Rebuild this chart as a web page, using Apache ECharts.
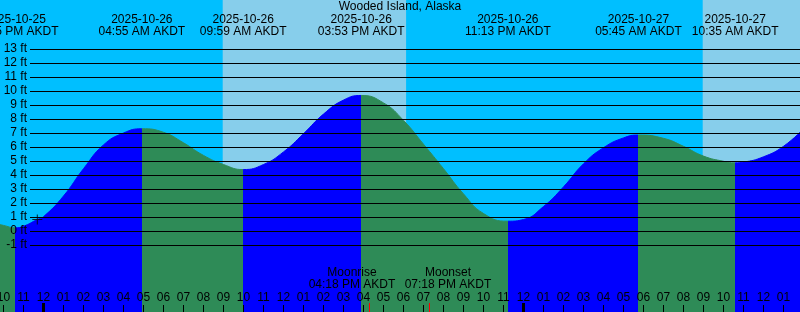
<!DOCTYPE html>
<html><head><meta charset="utf-8">
<script src="https://cdn.jsdelivr.net/npm/echarts@6/dist/echarts.min.js"></script>
<style>html,body{margin:0;padding:0;background:#00BFFF}#c{width:800px;height:312px}</style>
</head><body><div id="c"></div>
<script>
// ---- data (hours are relative to 2025-10-26 00:00 AKDT) ----
const chartTitle = 'Wooded Island, Alaska';
const tideHours = [-2.2, -2, -1.417, -1, -0.31, 0, 1, 2, 3, 4, 4.917, 6, 7, 8, 9, 9.983, 11, 12, 13, 14, 15, 15.883, 17, 18, 19, 20, 21, 22, 23.217, 24, 25, 26, 27, 28, 29, 29.75, 31, 32, 33, 34, 34.583, 35, 36, 37, 38];
const tideFeet  = [0.47, 0.40, 0.23, 0.34, 0.82, 1.02, 2.5, 4.45, 6.15, 7.0, 7.3, 7.05, 6.3, 5.4, 4.75, 4.39, 4.75, 5.65, 6.95, 8.35, 9.35, 9.68, 9.15, 7.9, 6.2, 4.45, 2.65, 1.25, 0.7, 0.82, 1.75, 3.15, 4.8, 5.95, 6.65, 6.85, 6.62, 6.05, 5.35, 4.98, 4.87, 4.92, 5.3, 6.05, 7.3];
const eventHours = [-1.417, 4.917, 9.983, 15.883, 23.217, 29.75, 34.583];
const eventKinds = ['low', 'high', 'low', 'high', 'low', 'high', 'low'];
const eventDates = ['2025-10-25', '2025-10-26', '2025-10-26', '2025-10-26', '2025-10-26', '2025-10-27', '2025-10-27'];
const eventTimes = ['10:35 PM AKDT', '04:55 AM AKDT', '09:59 AM AKDT', '03:53 PM AKDT', '11:13 PM AKDT', '05:45 AM AKDT', '10:35 AM AKDT'];
const sunriseHours = [8.96, 32.96];
const sunsetHours = [18.13, 42.1];
const moonNames = ['Moonrise', 'Moonset'];
const moonHours = [16.3, 19.3];
const moonTimes = ['04:18 PM AKDT', '07:18 PM AKDT'];
const hourTicks = [-2, -1, 0, 1, 2, 3, 4, 5, 6, 7, 8, 9, 10, 11, 12, 13, 14, 15, 16, 17, 18, 19, 20, 21, 22, 23, 24, 25, 26, 27, 28, 29, 30, 31, 32, 33, 34, 35, 36, 37];
const dayTicks = [0, 24];
const nowHour = [-0.31];
const nowFeet = [0.82];

// ---- view ----
const PXH = 20, PXFT = 14;
const xMin = -43.5 / PXH, xMax = 756.5 / PXH;
const yMin = -81 / PXFT, yMax = 231 / PXFT;
const FLOOD = '#0000FF', EBB = '#2E8B57', DAY = '#87CEEB', NIGHT = '#00BFFF';
const moonLabelPad = [[0, 35, 0, 0], [0, 0, 0, 37]];

const pieces = [{ lt: eventHours[0], color: eventKinds[0] === 'low' ? EBB : FLOOD }];
for (let i = 0; i < eventHours.length; i++) {
  const p = { gte: eventHours[i], color: eventKinds[i] === 'low' ? FLOOD : EBB };
  if (i < eventHours.length - 1) p.lt = eventHours[i + 1];
  pieces.push(p);
}
const hourFmt = v => {
  const hh = ((Math.round(v) % 24) + 24) % 24;
  const h12 = hh % 12 === 0 ? 12 : hh % 12;
  return String(h12).padStart(2, '0');
};
const font = 'Liberation Sans';
const baseX = { type: 'value', gridIndex: 0, min: xMin, max: xMax, position: 'bottom', z: 4,
  axisLine: { show: false, onZero: false }, splitLine: { show: false } };

const moonAxes = moonHours.map((m, i) => Object.assign({}, baseX, {
  axisTick: { show: true, inside: true, length: 9, customValues: [m], lineStyle: { color: '#FF0000', width: 1 } },
  axisLabel: { show: true, inside: true, customValues: [m], margin: 21, fontSize: 12, color: '#000', fontFamily: font,
    lineHeight: 12.5, hideOverlap: false, showMinLabel: true, showMaxLabel: true,
    formatter: () => '{m|' + moonNames[i] + '}\n{m|' + moonTimes[i] + '}',
    rich: { m: { padding: moonLabelPad[i], fontSize: 12, color: '#000', fontFamily: font, lineHeight: 12.5 } }
  }
}));

const chart = echarts.init(document.getElementById('c'));
chart.setOption({
  animation: false,
  backgroundColor: NIGHT,
  textStyle: { fontFamily: font },
  title: { text: chartTitle, left: 'center', top: 1, padding: 0,
    textStyle: { fontSize: 12, fontWeight: 'normal', color: '#000', fontFamily: font } },
  grid: [
    { left: 0, right: 0, top: 0, bottom: 0, outerBoundsMode: 'none', containLabel: false },
    { left: 30, right: 0, top: 49, height: 196, outerBoundsMode: 'none', containLabel: false }
  ],
  visualMap: { show: false, type: 'piecewise', dimension: 0, seriesIndex: 0, pieces: pieces },
  xAxis: [
    Object.assign({}, baseX, {
      axisTick: { show: true, inside: true, length: 7, customValues: hourTicks, lineStyle: { color: '#000', width: 1 } },
      axisLabel: { show: true, inside: true, customValues: hourTicks, formatter: hourFmt, margin: 8,
        fontSize: 12, color: '#000', fontFamily: font, hideOverlap: false, showMinLabel: true, showMaxLabel: true }
    }),
    Object.assign({}, baseX, {
      axisTick: { show: true, inside: true, length: 9, customValues: dayTicks, lineStyle: { color: '#000', width: 3 } },
      axisLabel: { show: false }
    }),
    Object.assign({}, baseX, {
      position: 'top',
      axisTick: { show: false },
      axisLabel: { show: true, inside: true, customValues: eventHours, margin: 13, fontSize: 12, color: '#000',
        fontFamily: font, lineHeight: 12.5, hideOverlap: false, showMinLabel: true, showMaxLabel: true,
        formatter: v => { const i = eventHours.indexOf(v); return eventDates[i] + '\n' + eventTimes[i]; } }
    }),
    { type: 'value', gridIndex: 1, min: 0, max: 1, show: false }
  ].concat(moonAxes),
  yAxis: [
    { type: 'value', gridIndex: 0, min: yMin, max: yMax, show: false },
    { type: 'value', gridIndex: 1, min: -1, max: 13, interval: 1, z: 3,
      axisLine: { show: false }, axisTick: { show: false },
      splitLine: { show: true, lineStyle: { color: '#000', width: 1 } },
      axisLabel: { formatter: '{value} ft', margin: 3, fontSize: 12, color: '#000', fontFamily: font,
        showMinLabel: true, showMaxLabel: true } }
  ],
  series: [
    { type: 'line', xAxisIndex: 0, yAxisIndex: 0, z: 2, silent: true, smooth: true, showSymbol: false,
      data: tideHours.map((h, i) => [h, tideFeet[i]]),
      lineStyle: { width: 1 }, areaStyle: { opacity: 1, origin: 'start' } },
    { type: 'line', xAxisIndex: 0, yAxisIndex: 0, z: 1, silent: true, data: [],
      markArea: { silent: true, itemStyle: { color: DAY },
        data: sunriseHours.map((s, i) => [{ xAxis: s }, { xAxis: sunsetHours[i] }]) } },
    { type: 'scatter', xAxisIndex: 0, yAxisIndex: 0, z: 5, silent: true,
      symbol: 'path://M0,4.5H10V5.5H0Z M4.5,0H5.5V10H4.5Z', symbolSize: 10,
      itemStyle: { color: '#000' },
      data: nowHour.map((h, i) => [h, nowFeet[i]]) }
  ]
});
</script>
</body></html>
